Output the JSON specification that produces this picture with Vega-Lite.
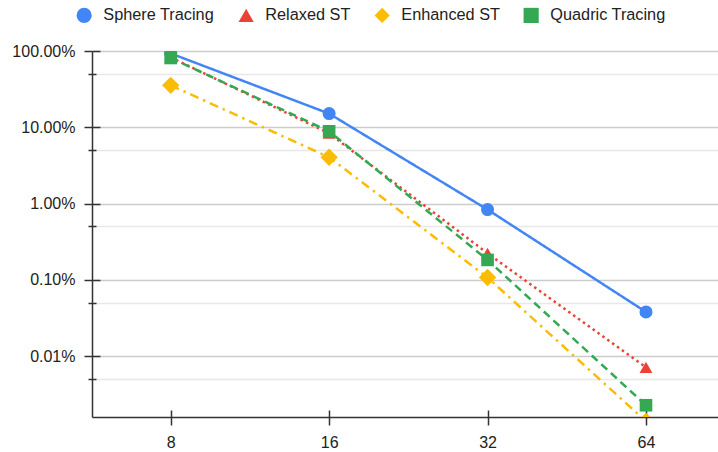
{
  "$schema": "https://vega.github.io/schema/vega-lite/v6.json",
  "width": 626,
  "height": 366,
  "autosize": {"type": "none"},
  "padding": {"left": 92, "top": 51, "right": 0, "bottom": 35},
  "background": "white",
  "data": {
    "values": [
      {"series": "Sphere Tracing", "steps": 8, "rate": 0.93},
      {"series": "Sphere Tracing", "steps": 16, "rate": 0.151},
      {"series": "Sphere Tracing", "steps": 32, "rate": 0.00832},
      {"series": "Sphere Tracing", "steps": 64, "rate": 0.000378},
      {"series": "Relaxed ST", "steps": 8, "rate": 0.826},
      {"series": "Relaxed ST", "steps": 16, "rate": 0.0833},
      {"series": "Relaxed ST", "steps": 32, "rate": 0.00222},
      {"series": "Relaxed ST", "steps": 64, "rate": 0.000071},
      {"series": "Enhanced ST", "steps": 8, "rate": 0.355},
      {"series": "Enhanced ST", "steps": 16, "rate": 0.0404},
      {"series": "Enhanced ST", "steps": 32, "rate": 0.00107},
      {"series": "Enhanced ST", "steps": 64, "rate": 0.0000139},
      {"series": "Quadric Tracing", "steps": 8, "rate": 0.81},
      {"series": "Quadric Tracing", "steps": 16, "rate": 0.0885},
      {"series": "Quadric Tracing", "steps": 32, "rate": 0.00182},
      {"series": "Quadric Tracing", "steps": 64, "rate": 0.0000226}
    ]
  },
  "layer": [
    {
      "mark": {"type": "line", "strokeWidth": 2.5, "clip": true},
      "encoding": {
        "x": {
          "field": "steps", "type": "quantitative",
          "scale": {"type": "log", "base": 2, "domain": [5.67, 87.7], "nice": false, "zero": false},
          "axis": {
            "values": [8, 16, 32, 64], "format": "d", "grid": false, "title": null,
            "tickSize": 8, "labelPadding": 9, "orient": "bottom"
          }
        },
        "y": {
          "field": "rate", "type": "quantitative",
          "scale": {"type": "log", "domain": [0.00001585, 1], "nice": false},
          "axis": {
            "title": null, "orient": "left",
            "values": [1, 0.5, 0.1, 0.05, 0.01, 0.005, 0.001, 0.0005, 0.0001, 0.00005],
            "labelExpr": "abs(log(datum.value)/LN10 - round(log(datum.value)/LN10)) < 0.001 ? format(datum.value, '.2%') : ''",
            "tickSize": {"condition": {"test": "abs(log(datum.value)/LN10 - round(log(datum.value)/LN10)) < 0.001", "value": 8}, "value": 4},
            "gridColor": {"condition": {"test": "abs(log(datum.value)/LN10 - round(log(datum.value)/LN10)) < 0.001", "value": "#cccccc"}, "value": "#e8e8e8"},
            "gridWidth": 1.5,
            "grid": true,
            "labelPadding": 9
          }
        },
        "stroke": {
          "field": "series", "type": "nominal", "legend": null,
          "scale": {
            "range": ["#FBBC04", "#34A853", "#EA4335", "#4285F4"]
          }
        },
        "strokeDash": {
          "field": "series", "type": "nominal", "legend": null,
          "scale": {
            "range": [[9, 5, 2.5, 5], [8, 5], [2.5, 3.5], [1, 0]]
          }
        }
      }
    },
    {
      "mark": {"type": "point", "filled": true, "opacity": 1, "clip": true},
      "encoding": {
        "x": {
          "field": "steps", "type": "quantitative",
          "axis": {
            "values": [8, 16, 32, 64], "labels": false, "domain": false, "grid": false,
            "title": null, "tickSize": -7, "orient": "bottom"
          }
        },
        "y": {
          "field": "rate", "type": "quantitative",
          "axis": {
            "values": [1, 0.5, 0.1, 0.05, 0.01, 0.005, 0.001, 0.0005, 0.0001, 0.00005],
            "labels": false, "domain": false, "grid": false, "title": null, "orient": "left",
            "tickSize": {"condition": {"test": "abs(log(datum.value)/LN10 - round(log(datum.value)/LN10)) < 0.001", "value": -8}, "value": -4}
          }
        },
        "color": {
          "field": "series", "type": "nominal",
          "scale": {
            "domain": ["Sphere Tracing", "Relaxed ST", "Enhanced ST", "Quadric Tracing"],
            "range": ["#4285F4", "#EA4335", "#FBBC04", "#34A853"]
          },
          "legend": {
            "title": null, "orient": "none", "direction": "horizontal",
            "legendX": -16, "legendY": -44
          }
        },
        "shape": {
          "field": "series", "type": "nominal",
          "scale": {
            "domain": ["Sphere Tracing", "Relaxed ST", "Enhanced ST", "Quadric Tracing"],
            "range": ["circle", "triangle-up", "diamond", "square"]
          },
          "legend": {
            "title": null, "orient": "none", "direction": "horizontal",
            "legendX": -16, "legendY": -44
          }
        },
        "size": {
          "field": "series", "type": "nominal", "legend": null,
          "scale": {
            "type": "ordinal",
            "range": [300, 160, 165, 170]
          }
        }
      }
    }
  ],
  "resolve": {
    "axis": {"x": "independent", "y": "independent"}
  },
  "config": {
    "view": {"stroke": null},
    "font": "Liberation Sans",
    "axis": {
      "labelFont": "Liberation Sans",
      "labelFontSize": 16,
      "labelColor": "#222222",
      "domainColor": "#333333",
      "domainWidth": 1.5,
      "tickColor": "#333333",
      "tickWidth": 1.5
    },
    "legend": {
      "labelFont": "Liberation Sans",
      "labelFontSize": 16.3,
      "labelColor": "#222222",
      "symbolSize": 230,
      "symbolStrokeWidth": 0,
      "labelOffset": 11,
      "columnPadding": 23
    }
  }
}
